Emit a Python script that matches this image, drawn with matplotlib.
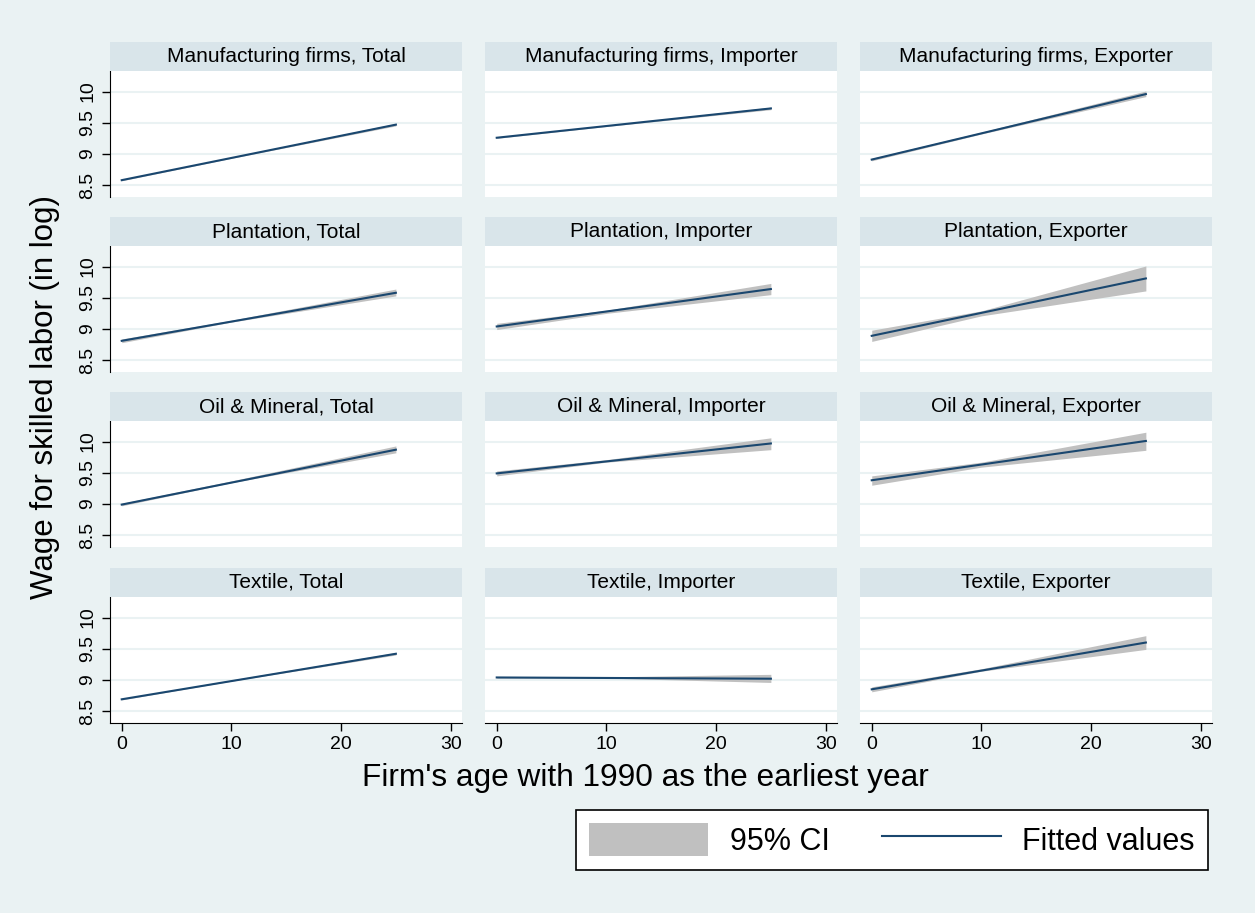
import numpy as np
import matplotlib
matplotlib.use('Agg')
import matplotlib.pyplot as plt
from matplotlib.patches import Patch
from matplotlib.lines import Line2D

plt.rcParams['font.family'] = ['Liberation Sans', 'DejaVu Sans']

# data
sectors = ['Manufacturing firms', 'Plantation', 'Oil & Mineral', 'Textile']
groups = ['Total', 'Importer', 'Exporter']

fit_x = [0, 25]
fit_start = [[8.58, 9.26, 8.91],
             [8.81, 9.04, 8.89],
             [8.99, 9.49, 9.38],
             [8.69, 9.04, 8.85]]
fit_end = [[9.47, 9.73, 9.96],
           [9.58, 9.64, 9.81],
           [9.87, 9.97, 10.01],
           [9.42, 9.02, 9.60]]

ci_x = [0, 10, 25]
ci_lo = [[[8.57, 8.93, 9.45], [9.25, 9.44, 9.71], [8.89, 9.32, 9.92]],
         [[8.78, 9.11, 9.53], [8.99, 9.25, 9.55], [8.80, 9.21, 9.61]],
         [[8.97, 9.34, 9.82], [9.45, 9.67, 9.87], [9.30, 9.59, 9.86]],
         [[8.68, 8.98, 9.40], [9.03, 9.03, 8.96], [8.81, 9.14, 9.49]]]
ci_hi = [[[8.59, 8.95, 9.49], [9.27, 9.46, 9.75], [8.93, 9.35, 10.01]],
         [[8.84, 9.14, 9.64], [9.09, 9.30, 9.73], [8.98, 9.29, 10.01]],
         [[9.01, 9.37, 9.93], [9.53, 9.71, 10.06], [9.45, 9.67, 10.15]],
         [[8.70, 9.00, 9.44], [9.05, 9.05, 9.09], [8.89, 9.18, 9.71]]]

yticks = [8.5, 9, 9.5, 10]
ytick_labels = ['8.5', '9', '9.5', '10']
xticks = [0, 10, 20, 30]

bg = '#EAF2F3'
strip = '#D9E5EA'
navy = '#1A476F'
cigray = '#C0C0C0'

W, H = 1255, 913
fig = plt.figure(figsize=(W / 100, H / 100), dpi=100, facecolor=bg)


def box(x0, y0, x1, y1):
    return [x0 / W, 1 - y1 / H, (x1 - x0) / W, (y1 - y0) / H]


col_left = [110, 485, 860]
col_w = 352
row_top = [71, 246, 421, 597]
plot_h = 126
strip_h = 29

for r, sec in enumerate(sectors):
    for c, grp in enumerate(groups):
        x0 = col_left[c]
        y0 = row_top[r]
        ax = fig.add_axes(box(x0, y0, x0 + col_w, y0 + plot_h))
        ax.set_facecolor('white')
        ax.fill_between(ci_x, ci_lo[r][c], ci_hi[r][c], color=cigray,
                        linewidth=0, zorder=2)
        ax.plot(fit_x, [fit_start[r][c], fit_end[r][c]], color=navy,
                linewidth=1.5, zorder=3)
        ax.set_xlim(-1.07, 31.03)
        ax.set_ylim(8.31, 10.33)
        ax.set_yticks(yticks)
        ax.set_xticks(xticks)
        ax.grid(axis='y', color=bg, linewidth=1.5, zorder=1)
        ax.set_axisbelow(True)
        for s in ['top', 'right']:
            ax.spines[s].set_visible(False)
        ax.spines['left'].set_visible(c == 0)
        ax.spines['bottom'].set_visible(r == 3)
        if c == 0:
            ax.set_yticklabels(ytick_labels, rotation=90, va='center',
                               fontsize=14)
            ax.tick_params(axis='y', length=6, width=1, pad=4)
        else:
            ax.tick_params(axis='y', left=False, labelleft=False)
        if r == 3:
            ax.tick_params(axis='x', length=6, width=1, labelsize=14, pad=3)
        else:
            ax.tick_params(axis='x', bottom=False, labelbottom=False)

        sax = fig.add_axes(box(x0, y0 - strip_h, x0 + col_w, y0))
        sax.set_facecolor(strip)
        sax.set_xticks([])
        sax.set_yticks([])
        for s in sax.spines.values():
            s.set_visible(False)
        sax.text(0.5, 0.5, f'{sec}, {grp}', ha='center', va='center',
                 fontsize=15, transform=sax.transAxes)

fig.text(645 / W, 1 - 778 / H, "Firm's age with 1990 as the earliest year",
         ha='center', va='center', fontsize=22.8)
fig.text(45 / W, 1 - 397 / H, 'Wage for skilled labor (in log)',
         ha='center', va='center', rotation=90, fontsize=22.5)

handles = [Patch(facecolor=cigray, edgecolor='none'),
           Line2D([], [], color=navy, linewidth=1.5)]
leg = fig.legend(handles, ['95% CI', 'Fitted values'], ncol=2,
                 loc='center', bbox_to_anchor=(892 / W, 1 - 840 / H),
                 fontsize=22, frameon=True, fancybox=False,
                 edgecolor='black', facecolor='white', framealpha=1,
                 handlelength=3.9, handleheight=1.25, handletextpad=0.7,
                 columnspacing=1.7, borderpad=0.42, borderaxespad=0)
leg.get_frame().set_linewidth(1.2)

fig.savefig('out.png', dpi=100, facecolor=bg)
